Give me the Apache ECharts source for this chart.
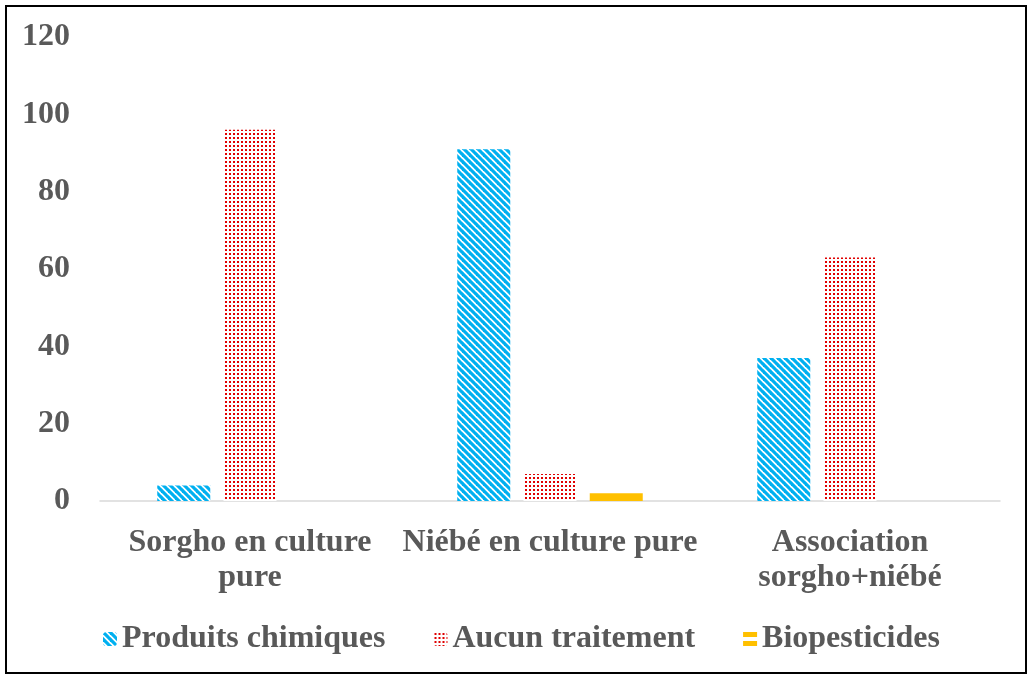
<!DOCTYPE html>
<html>
<head>
<meta charset="utf-8">
<script src="https://cdn.jsdelivr.net/npm/echarts@6/dist/echarts.min.js"></script>
<style>
  html, body { margin: 0; padding: 0; background: #fff; }
  #chart { width: 1031px; height: 676px; }
</style>
</head>
<body>
<div id="chart"></div>
<script>
  // données
  var categories = ['Sorgho en culture\npure', 'Niébé en culture pure', 'Association\nsorgho+niébé'];
  var produitsChimiques = [4, 91, 37];
  var aucunTraitement = [96, 7, 63];
  var biopesticides = [0, 2, 0];
  var yTicks = { min: 0, max: 120, interval: 20 };

  // motif rayé bleu
  function stripes() {
    var c = document.createElement('canvas');
    c.width = 7; c.height = 7;
    var g = c.getContext('2d');
    g.fillStyle = '#fff';
    g.fillRect(0, 0, 7, 7);
    g.strokeStyle = '#00B0F0';
    g.lineWidth = 3.2;
    for (var k = -7; k <= 7; k += 7) {
      g.beginPath();
      g.moveTo(k - 1, -1);
      g.lineTo(k + 8, 8);
      g.stroke();
    }
    return c;
  }
  // motif pointillé rouge
  function dots() {
    var c = document.createElement('canvas');
    c.width = 4; c.height = 4;
    var g = c.getContext('2d');
    g.fillStyle = '#fff';
    g.fillRect(0, 0, 4, 4);
    g.fillStyle = '#E00000';
    g.fillRect(1, 1, 2, 2);
    return c;
  }

  var font = { fontFamily: 'Liberation Serif', fontWeight: 'bold', fontSize: 32, color: '#595959' };

  var chart = echarts.init(document.getElementById('chart'));
  var option = {
    animation: false,
    backgroundColor: '#fff',
    grid: { left: 100, right: 31, top: 37, bottom: 175 },
    legend: {
      left: 98,
      top: 618,
      itemWidth: 14,
      itemHeight: 14,
      itemGap: 48,
      textStyle: font,
      data: [
        { name: 'Produits chimiques' },
        { name: 'Aucun traitement' },
        { name: 'Biopesticides', icon: 'path://M0,0H14V5H0Z M0,9H14V14H0Z' }
      ]
    },
    xAxis: {
      type: 'category',
      data: categories,
      axisTick: { show: false },
      axisLine: { lineStyle: { color: '#d9d9d9', width: 1.5 } },
      axisLabel: Object.assign({ margin: 24, lineHeight: 35, interval: 0 }, font)
    },
    yAxis: {
      type: 'value',
      min: yTicks.min,
      max: yTicks.max,
      interval: yTicks.interval,
      splitLine: { show: false },
      axisLine: { show: false },
      axisTick: { show: false },
      axisLabel: Object.assign({ margin: 30 }, font)
    },
    series: [
      {
        name: 'Produits chimiques',
        type: 'bar',
        barWidth: 53,
        barGap: '25%',
        data: produitsChimiques,
        itemStyle: { color: { image: stripes(), repeat: 'repeat' } }
      },
      {
        name: 'Aucun traitement',
        type: 'bar',
        barWidth: 53,
        barGap: '25%',
        data: aucunTraitement,
        itemStyle: { color: { image: dots(), repeat: 'repeat' } }
      },
      {
        name: 'Biopesticides',
        type: 'bar',
        barWidth: 53,
        barGap: '25%',
        data: biopesticides,
        itemStyle: { color: '#FFC000' }
      }
    ],
    graphic: [{
      type: 'rect',
      shape: { x: 6, y: 6, width: 1020, height: 667 },
      style: { fill: null, stroke: '#000', lineWidth: 2 },
      silent: true
    }]
  };
  chart.setOption(option);
  window.addEventListener('resize', function () {
    chart.resize();
  });
</script>
</body>
</html>
